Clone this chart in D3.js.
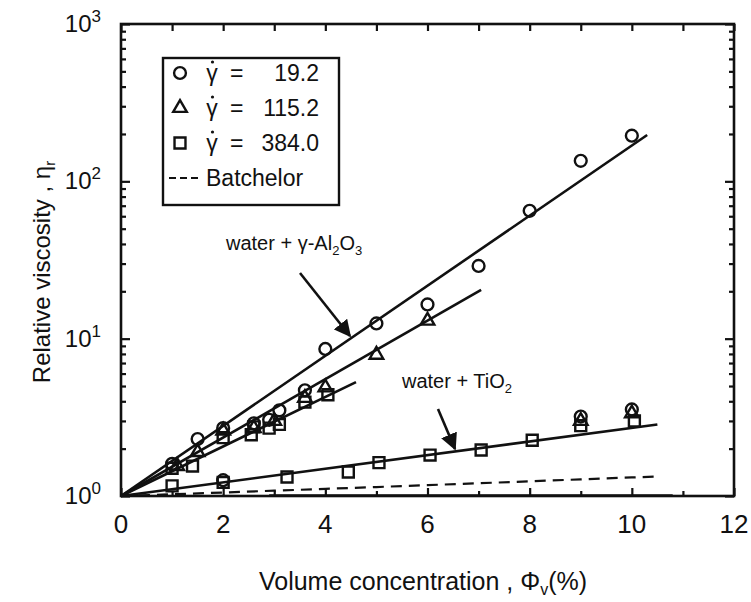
<!DOCTYPE html>
<html>
<head>
<meta charset="utf-8">
<script src="https://cdn.jsdelivr.net/npm/d3@7/dist/d3.min.js"></script>
<style>
  html, body { margin: 0; padding: 0; background: #fff; }
  svg { display: block; }
  text { font-family: "Liberation Sans", Arial, Helvetica, sans-serif; fill: #111; }
</style>
</head>
<body>
<svg id="chart" width="751" height="602"></svg>
<script>
// ---- data: volume concentration (%) and relative viscosity ----
// water + gamma-Al2O3
const alCirclePhi = [1.0, 1.5, 2.0, 2.6, 2.9, 3.1, 3.6, 4.0, 5.0, 6.0, 7.0, 8.0, 9.0, 10.0];
const alCircleEta = [1.6, 2.3, 2.7, 2.9, 3.05, 3.5, 4.7, 8.6, 12.5, 16.5, 29, 65, 135, 195];
const alTrianglePhi = [1.1, 1.5, 2.0, 2.6, 3.0, 3.6, 4.0, 5.0, 6.0];
const alTriangleEta = [1.55, 1.9, 2.6, 2.7, 3.0, 4.2, 4.9, 7.9, 13.0];
const alSquarePhi = [1.0, 1.4, 2.0, 2.55, 2.6, 2.9, 3.1, 3.6, 4.05];
const alSquareEta = [1.5, 1.55, 2.35, 2.45, 2.75, 2.7, 2.85, 3.95, 4.4];
// water + TiO2
const tiCirclePhi = [2.0, 9.0, 10.0];
const tiCircleEta = [1.26, 3.2, 3.55];
const tiTrianglePhi = [9.0, 10.0];
const tiTriangleEta = [3.0, 3.35];
const tiSquarePhi = [1.0, 2.0, 3.25, 4.45, 5.05, 6.05, 7.05, 8.05, 9.0, 10.05];
const tiSquareEta = [1.16, 1.22, 1.32, 1.42, 1.63, 1.82, 1.96, 2.26, 2.8, 3.0];

// fitted lines (end points on a semi-log plot)
const fitAlLowPhi = [0, 10.3],  fitAlLowEta = [1, 197];
const fitAlMidPhi = [0, 7.05],  fitAlMidEta = [1, 20.4];
const fitAlHighPhi = [0, 4.6],  fitAlHighEta = [1, 5.3];
const fitTiPhi = [0, 10.5],     fitTiEta = [1, 2.85];
const flatPhi = [2.9, 10.8],    flatEta = [1.012, 1.012];

// Batchelor correlation
const batchelorPhi = [0, 1, 2, 3, 4, 5, 6, 7, 8, 9, 10, 10.5];
const batchelorEta = [1.0, 1.026, 1.052, 1.081, 1.11, 1.14, 1.172, 1.205, 1.24, 1.276, 1.312, 1.33];

// axis ticks
const xMajorTicks = [0, 2, 4, 6, 8, 10, 12];
const xMinorTicks = [1, 3, 5, 7, 9, 11];
const yDecades = [1, 10, 100, 1000];
const yDecadeExp = ["0", "1", "2", "3"];

// legend
const legendShear = ["19.2", "115.2", "384.0"];
const legendSymbols = ["circle", "triangle", "square"];

// ---- layout ----
const svg = d3.select("#chart");
const plotLeft = 121, plotRight = 734, plotTop = 24, plotBottom = 496;
const x = d3.scaleLinear().domain([0, 12]).range([plotLeft, plotRight]);
const y = d3.scaleLog().domain([1, 1000]).range([plotBottom, plotTop]);
const ink = "#111";
const zip = (a, b) => a.map((v, i) => [v, b[i]]);

// ---- axes with inward ticks ----
const yMinor = [];
yDecades.slice(0, 3).forEach(d => { for (let k = 2; k <= 9; k++) yMinor.push(d * k); });

function styleAxis(g) {
  g.selectAll("path.domain").remove();
  g.selectAll("line").attr("stroke", ink).attr("stroke-width", 2.2);
}
svg.append("g").attr("transform", `translate(0,${plotBottom})`)
  .call(d3.axisBottom(x).tickValues(xMajorTicks).tickSizeInner(-8).tickSizeOuter(0).tickFormat("")).call(styleAxis);
svg.append("g").attr("transform", `translate(0,${plotBottom})`)
  .call(d3.axisBottom(x).tickValues(xMinorTicks).tickSizeInner(-5).tickSizeOuter(0).tickFormat("")).call(styleAxis);
svg.append("g").attr("transform", `translate(0,${plotTop})`)
  .call(d3.axisTop(x).tickValues(xMajorTicks.concat(xMinorTicks)).tickSizeInner(-7).tickSizeOuter(0).tickFormat("")).call(styleAxis);
svg.append("g").attr("transform", `translate(${plotLeft},0)`)
  .call(d3.axisLeft(y).tickValues(yDecades).tickSizeInner(-9).tickSizeOuter(0).tickFormat("")).call(styleAxis);
svg.append("g").attr("transform", `translate(${plotLeft},0)`)
  .call(d3.axisLeft(y).tickValues(yMinor).tickSizeInner(-5).tickSizeOuter(0).tickFormat("")).call(styleAxis);
svg.append("g").attr("transform", `translate(${plotRight},0)`)
  .call(d3.axisRight(y).tickValues(yDecades).tickSizeInner(-9).tickSizeOuter(0).tickFormat("")).call(styleAxis);
svg.append("g").attr("transform", `translate(${plotRight},0)`)
  .call(d3.axisRight(y).tickValues(yMinor).tickSizeInner(-5).tickSizeOuter(0).tickFormat("")).call(styleAxis);

// frame
svg.append("rect").attr("x", plotLeft).attr("y", plotTop)
  .attr("width", plotRight - plotLeft).attr("height", plotBottom - plotTop)
  .attr("fill", "none").attr("stroke", ink).attr("stroke-width", 2.6);

// x tick labels
svg.append("g").selectAll("text").data(xMajorTicks).join("text")
  .attr("x", d => x(d)).attr("y", plotBottom + 37)
  .attr("text-anchor", "middle").attr("font-size", 26)
  .text(d => d);

// y tick labels: 10^n
const yLab = svg.append("g").selectAll("text").data(yDecades).join("text")
  .attr("x", plotLeft - 20).attr("y", d => y(d) + 8)
  .attr("text-anchor", "end").attr("font-size", 24);
yLab.append("tspan").text("10");
yLab.append("tspan").attr("dy", -10).attr("font-size", 17).text((d, i) => yDecadeExp[i]);

// axis titles
const xt = svg.append("text").attr("x", 423).attr("y", 590)
  .attr("text-anchor", "middle").attr("font-size", 25);
xt.append("tspan").text("Volume concentration ,  Φ");
xt.append("tspan").attr("font-size", 16).attr("dy", 5).text("v");
xt.append("tspan").attr("dy", -5).text("(%)");

const yt = svg.append("text").attr("transform", "translate(50,272) rotate(-90)")
  .attr("text-anchor", "middle").attr("font-size", 24);
yt.append("tspan").text("Relative viscosity , η");
yt.append("tspan").attr("font-size", 15).attr("dy", 5).text("r");

// ---- lines ----
const line = d3.line().x(d => x(d[0])).y(d => y(d[1]));
const plot = svg.append("g");
[[fitAlLowPhi, fitAlLowEta], [fitAlMidPhi, fitAlMidEta], [fitAlHighPhi, fitAlHighEta], [fitTiPhi, fitTiEta]]
  .forEach(([p, e]) => plot.append("path").attr("d", line(zip(p, e)))
    .attr("fill", "none").attr("stroke", ink).attr("stroke-width", 2.6));
plot.append("path").attr("d", line(zip(flatPhi, flatEta)))
  .attr("fill", "none").attr("stroke", ink).attr("stroke-width", 2);
plot.append("path").attr("d", line(zip(batchelorPhi, batchelorEta)))
  .attr("fill", "none").attr("stroke", ink).attr("stroke-width", 2.2)
  .attr("stroke-dasharray", "11,7");

// ---- markers ----
const symbolPath = {
  circle: d3.symbol(d3.symbolCircle, 110)(),
  triangle: d3.symbol(d3.symbolTriangle, 80)(),
  square: d3.symbol(d3.symbolSquare, 120)()
};
function drawMarkers(phi, eta, kind) {
  plot.append("g").selectAll("path").data(zip(phi, eta)).join("path")
    .attr("transform", d => `translate(${x(d[0])},${y(d[1])})`)
    .attr("d", symbolPath[kind])
    .attr("fill", "none").attr("stroke", ink).attr("stroke-width", 2.4);
}
drawMarkers(alSquarePhi, alSquareEta, "square");
drawMarkers(alTrianglePhi, alTriangleEta, "triangle");
drawMarkers(alCirclePhi, alCircleEta, "circle");
drawMarkers(tiSquarePhi, tiSquareEta, "square");
drawMarkers(tiTrianglePhi, tiTriangleEta, "triangle");
drawMarkers(tiCirclePhi, tiCircleEta, "circle");

// ---- annotations ----
const defs = svg.append("defs");
defs.append("marker").attr("id", "head").attr("viewBox", "0 0 10 10")
  .attr("refX", 9).attr("refY", 5).attr("markerWidth", 17).attr("markerHeight", 17)
  .attr("markerUnits", "userSpaceOnUse").attr("orient", "auto")
  .append("path").attr("d", "M0,0 L10,5 L0,10 Z").attr("fill", ink);

const al = svg.append("text").attr("x", 226).attr("y", 250).attr("font-size", 20);
al.append("tspan").text("water + γ-Al");
al.append("tspan").attr("font-size", 13).attr("dy", 5).text("2");
al.append("tspan").attr("dy", -5).text("O");
al.append("tspan").attr("font-size", 13).attr("dy", 5).text("3");
svg.append("line").attr("x1", 300).attr("y1", 273).attr("x2", 350).attr("y2", 336)
  .attr("stroke", ink).attr("stroke-width", 2.6).attr("marker-end", "url(#head)");

const ti = svg.append("text").attr("x", 402).attr("y", 388).attr("font-size", 20);
ti.append("tspan").text("water + TiO");
ti.append("tspan").attr("font-size", 13).attr("dy", 5).text("2");
svg.append("line").attr("x1", 438).attr("y1", 409).attr("x2", 455).attr("y2", 449)
  .attr("stroke", ink).attr("stroke-width", 2.6).attr("marker-end", "url(#head)");

// ---- legend ----
const lg = svg.append("g");
lg.append("rect").attr("x", 163).attr("y", 58).attr("width", 176).attr("height", 147)
  .attr("fill", "#fff").attr("stroke", ink).attr("stroke-width", 2.4);
const rowY = [73, 108, 143, 178];
legendShear.forEach((v, i) => {
  lg.append("path").attr("transform", `translate(180,${rowY[i]})`)
    .attr("d", symbolPath[legendSymbols[i]])
    .attr("fill", "none").attr("stroke", ink).attr("stroke-width", 2.4);
  // shear-rate symbol: gamma with an overdot
  lg.append("text").attr("x", 212).attr("y", rowY[i] + 8).attr("font-size", 23)
    .attr("text-anchor", "middle").text("γ");
  lg.append("circle").attr("cx", 212.5).attr("cy", rowY[i] - 11).attr("r", 1.6).attr("fill", ink);
  lg.append("text").attr("x", 230).attr("y", rowY[i] + 8).attr("font-size", 23).text("=");
  lg.append("text").attr("x", 319).attr("y", rowY[i] + 8).attr("font-size", 23)
    .attr("text-anchor", "end").text(v);
});
lg.append("line").attr("x1", 169).attr("x2", 199).attr("y1", rowY[3]).attr("y2", rowY[3])
  .attr("stroke", ink).attr("stroke-width", 2.2).attr("stroke-dasharray", "7,4");
lg.append("text").attr("x", 206).attr("y", rowY[3] + 8).attr("font-size", 23).text("Batchelor");
</script>
</body>
</html>
